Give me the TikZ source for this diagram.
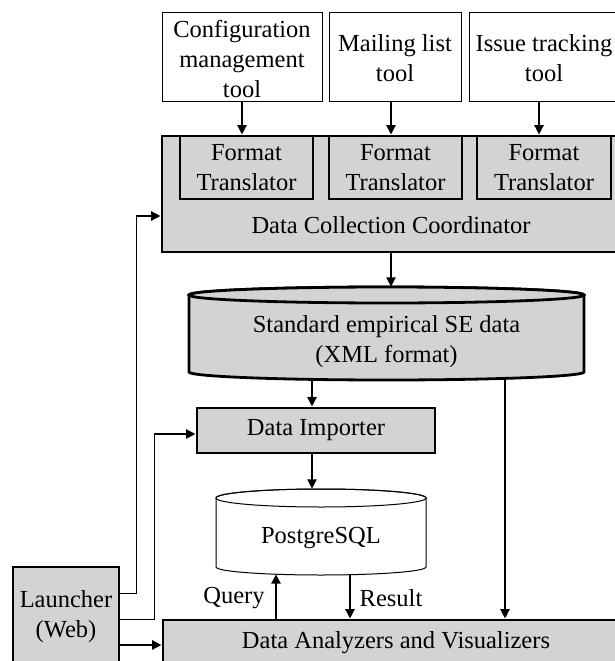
\documentclass[tikz,border=0pt]{standalone}
\usepackage{fontspec}
\setmainfont{Liberation Serif}
\usetikzlibrary{arrows.meta}
\definecolor{boxgray}{RGB}{211,211,211}
\tikzset{
  every node/.style={font=\fontsize{24.5}{30}\selectfont, inner sep=0pt, align=center},
  whitebox/.style={draw, line width=1pt, fill=white},
  graybox/.style={draw, line width=2.8pt, fill=boxgray},
  arr/.style={line width=2.3pt, -{Triangle[length=9.5pt,width=9pt]}},
  thinline/.style={line width=1pt},
  txt/.style={},
}
\begin{document}
\begin{tikzpicture}[x=1pt,y=1pt]
\useasboundingbox (0,0) rectangle (615,-661);
\clip (0,0) rectangle (615,-661);
\fill[white] (0,0) rectangle (615,-661);

% top tools
\node[whitebox, minimum width=160, minimum height=88] (cfg) at (242,-57) {};
\node[txt] at (242,-59) {Configuration\\management\\tool};
\node[whitebox, minimum width=132, minimum height=88] (mail) at (395,-57) {};
\node[txt] at (395,-58) {Mailing list\\tool};
\node[whitebox, minimum width=151, minimum height=88] (issue) at (544.5,-57) {};
\node[txt] at (544,-58) {Issue tracking\\tool};

% Data collection coordinator
\node[graybox, minimum width=463, minimum height=116] (dcc) at (393.5,-194) {};
\node[graybox, minimum width=133, minimum height=63] (ft1) at (246.5,-167.5) {Format\\Translator};
\node[graybox, minimum width=133, minimum height=63] (ft2) at (395.5,-167.5) {Format\\Translator};
\node[graybox, minimum width=134, minimum height=63] (ft3) at (544,-167.5) {Format\\Translator};
\node[txt] (dcctext) at (391,-225) {Data Collection Coordinator};

\coordinate (x242) at (242,0);
\coordinate (x391) at (391,0);
\coordinate (x539) at (539,0);
\coordinate (x312) at (312,0);
\coordinate (x276) at (276,0);
\coordinate (x350) at (350,0);
\coordinate (x505) at (505,0);

\draw[arr] (cfg.south -| x242) -- (ft1.north -| x242);
\draw[arr] (mail.south -| x391) -- (ft2.north -| x391);
\draw[arr] (issue.south -| x539) -- (ft3.north -| x539);

% Standard empirical SE data cylinder
\node[minimum width=395, minimum height=93] (sed) at (386.5,-333.5) {};
\draw[line width=2.8pt, fill=boxgray]
  (189,-295) -- (189,-372) arc[start angle=180, end angle=360, x radius=197.5, y radius=8]
  -- (584,-295) arc[start angle=0, end angle=180, x radius=197.5, y radius=8] -- cycle;
\draw[line width=2.8pt, fill=boxgray] (386.5,-295) ellipse[x radius=197.5, y radius=8];
\node[txt] at (386.5,-342) {Standard empirical SE data\\(XML format)};

\draw[arr] (dcc.south -| x391) -- (sed.north -| x391);

% Data importer
\node[graybox, minimum width=238, minimum height=45] (di) at (316,-430.5) {Data Importer};
\draw[arr] (sed.south -| x312) -- (di.north -| x312);

% PostgreSQL cylinder
\node[minimum width=210, minimum height=86] (pg) at (321,-532) {};
\draw[line width=1pt, fill=white]
  (216,-498) -- (216,-567) arc[start angle=180, end angle=360, x radius=105, y radius=8]
  -- (426,-498) arc[start angle=0, end angle=180, x radius=105, y radius=9] -- cycle;
\draw[line width=1pt] (321,-498) ellipse[x radius=105, y radius=9];
\node[txt] at (321,-538) {PostgreSQL};
\draw[arr] (di.south -| x312) -- (pg.north -| x312);

% Data analyzers
\node[graybox, minimum width=462, minimum height=80] (dav) at (394,-660) {};
\node[txt] at (396,-643) {Data Analyzers and Visualizers};

\draw[arr] ([yshift=-1pt]dav.north -| x276) -- ([yshift=1pt]pg.south -| x276);
\draw[arr] (pg.south -| x350) -- (dav.north -| x350);
\draw[arr] ([yshift=1.5pt]sed.south -| x505) -- (dav.north -| x505);
\node[txt] (query) at (234,-598) {Query};
\node[txt] (result) at (391,-598) {Result};

% Launcher
\node[graybox, minimum width=106, minimum height=133] (launch) at (66,-633.5) {};
\node[txt] at (66,-617) {Launcher\\(Web)};

\coordinate (l1) at (119,-593);
\coordinate (k1) at (136,-216);
\coordinate (l2) at (119,-619);
\coordinate (k2) at (154,-434);
\coordinate (l3) at (119,-645);
\draw[thinline] (launch.east |- l1) -| (k1);
\draw[arr] (k1) -- (dcc.west |- k1);
\draw[thinline] (launch.east |- l2) -| (k2);
\draw[arr] (k2) -- (di.west |- k2);
\draw[arr] (launch.east |- l3) -- (dav.west |- l3);
\end{tikzpicture}
\end{document}
